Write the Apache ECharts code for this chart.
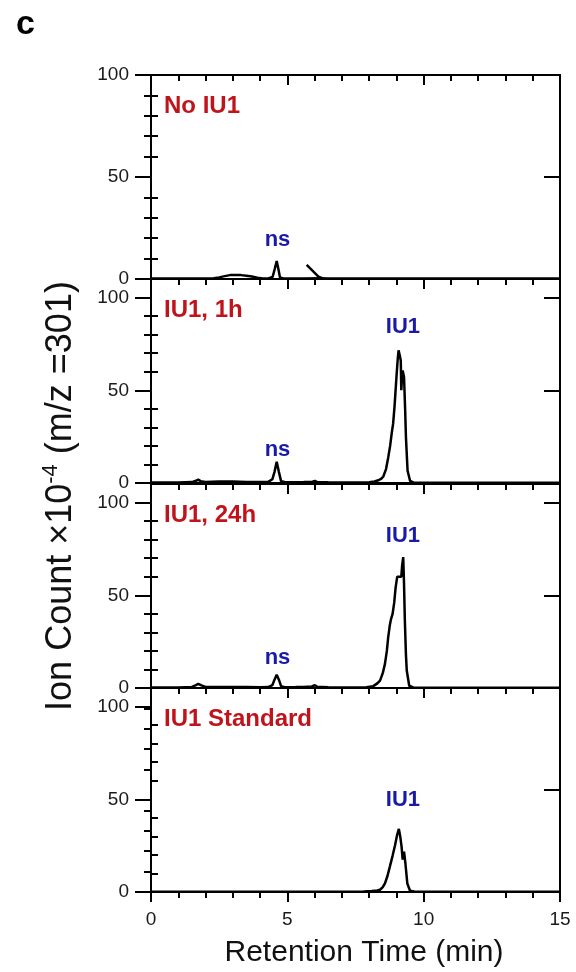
<!DOCTYPE html>
<html>
<head>
<meta charset="utf-8">
<script src="https://cdn.jsdelivr.net/npm/echarts@6/dist/echarts.min.js"></script>
<style>
  html, body { margin: 0; padding: 0; background: #fff; }
  #chart { width: 576px; height: 972px; }
</style>
</head>
<body>
<div id="chart"></div>
<script>
// Extracted ion chromatograms, m/z 301 (ion count x10^-4 vs retention time in min)

// Panel 1: no IU1
const noIU1Time  = [0, 0.5, 1.0, 1.5, 2.0, 2.3, 2.5, 2.7, 2.9, 3.1, 3.3, 3.5, 3.7, 3.9, 4.1, 4.3, 4.46, 4.54, 4.61, 4.67, 4.73, 4.85, 5.0, 5.3, 5.6, 6.2, 6.5, 7, 8, 9, 10, 11, 12, 13, 14, 15];
const noIU1Count = [0.2, 0.2, 0.2, 0.3, 0.3, 0.4, 0.8, 1.4, 1.9, 2.0, 1.9, 1.6, 1.2, 0.6, 0.3, 0.3, 1.0, 5.0, 8.8, 5.0, 0.8, 0.3, 0.3, 0.3, 0.3, 0.4, 0.3, 0.2, 0.2, 0.2, 0.2, 0.2, 0.2, 0.2, 0.2, 0.2];
// short stray stroke in the blank run near 6 min
const noIU1StrayTime  = [5.71, 6.14, 6.3];
const noIU1StrayCount = [6.9, 1.2, 0.3];

// Panel 2: IU1, 1 h
const iu1h1Time  = [0, 1.0, 1.5, 1.65, 1.73, 1.82, 2.0, 2.5, 3.0, 3.5, 4.0, 4.3, 4.45, 4.53, 4.61, 4.69, 4.77, 4.9, 5.2, 5.6, 5.9, 6.01, 6.1, 6.5, 7.0, 7.5, 8.0, 8.2, 8.34, 8.45, 8.52, 8.62, 8.70, 8.77, 8.83, 8.88, 8.93, 9.01, 9.05, 9.08, 9.12, 9.16, 9.18, 9.21, 9.23, 9.26, 9.28, 9.32, 9.35, 9.41, 9.50, 9.62, 9.8, 10, 11, 12, 13, 14, 15];
const iu1h1Count = [0.3, 0.3, 0.5, 1.2, 1.8, 1.0, 0.6, 0.8, 0.8, 0.6, 0.5, 0.6, 2.0, 6.0, 11.5, 6.0, 1.0, 0.5, 0.4, 0.5, 0.6, 1.1, 0.5, 0.4, 0.3, 0.3, 0.4, 0.8, 1.5, 2.4, 3.5, 7.5, 13.8, 20.0, 27.0, 32.0, 40.9, 58.9, 67.0, 71.5, 69.0, 66.0, 50.0, 58.0, 60.7, 58.5, 57.0, 40.0, 24.6, 6.6, 1.2, 0.3, 0.2, 0.2, 0.2, 0.2, 0.2, 0.2, 0.2];

// Panel 3: IU1, 24 h
const iu1h24Time  = [0, 1.0, 1.5, 1.65, 1.73, 1.85, 2.0, 2.5, 3.0, 3.5, 4.0, 4.3, 4.45, 4.53, 4.61, 4.69, 4.77, 4.9, 5.3, 5.6, 5.9, 6.01, 6.1, 6.5, 7.0, 7.5, 7.9, 8.15, 8.3, 8.40, 8.50, 8.58, 8.65, 8.70, 8.76, 8.80, 8.86, 8.92, 8.97, 9.01, 9.03, 9.18, 9.21, 9.25, 9.28, 9.31, 9.35, 9.38, 9.47, 9.62, 9.8, 10, 11, 12, 13, 14, 15];
const iu1h24Count = [0.3, 0.3, 0.6, 1.6, 2.2, 1.4, 0.6, 0.5, 0.6, 0.5, 0.4, 0.5, 1.5, 4.5, 7.2, 4.5, 1.0, 0.4, 0.5, 0.6, 0.8, 1.5, 0.7, 0.4, 0.3, 0.3, 0.4, 1.0, 2.5, 4.0, 8.0, 13.0, 20.0, 27.4, 34.0, 37.0, 40.0, 46.0, 54.0, 58.0, 60.0, 60.0, 66.0, 70.6, 56.0, 36.4, 18.0, 9.4, 1.2, 0.3, 0.2, 0.2, 0.2, 0.2, 0.2, 0.2, 0.2];

// Panel 4: IU1 standard
const stdTime  = [0, 2, 4, 6, 7, 7.8, 8.1, 8.3, 8.4, 8.5, 8.58, 8.67, 8.76, 8.86, 8.95, 9.03, 9.09, 9.14, 9.19, 9.23, 9.26, 9.28, 9.33, 9.40, 9.50, 9.65, 10, 11, 12, 13, 14, 15];
const stdCount = [0.2, 0.2, 0.2, 0.2, 0.2, 0.3, 0.5, 0.8, 1.2, 2.6, 4.6, 8.5, 13.7, 19.5, 25.2, 31.0, 34.0, 30.0, 24.5, 17.5, 20.0, 21.8, 15.5, 4.6, 0.7, 0.3, 0.2, 0.2, 0.2, 0.2, 0.2, 0.2];

const panelTitles = ['No IU1', 'IU1, 1h', 'IU1, 24h', 'IU1 Standard'];
// peak annotations per panel: [name, retention time, height in ion-count units]
const peakNotes = [
  [['ns', 4.64, 19.0]],
  [['ns', 4.64, 17.7], ['IU1', 9.24, 84.0]],
  [['ns', 4.64, 16.1], ['IU1', 9.24, 81.8]],
  [['IU1', 9.24, 49.4]]
];
const xTicks = [0, 5, 10, 15];
const yMajorTicks = [0, 50, 100];
const yMinorTicks = [10, 20, 30, 40, 60, 70, 80, 90];
const leftMax  = [100, 110, 110, 110];
const rightMax = [100, 110, 110, 100];

const traces = [
  [[noIU1Time, noIU1Count], [noIU1StrayTime, noIU1StrayCount]],
  [[iu1h1Time, iu1h1Count]],
  [[iu1h24Time, iu1h24Count]],
  [[stdTime, stdCount]]
];

const FONT = '"Liberation Sans", Arial, Helvetica, sans-serif';
const RED = '#c0141c';
const BLUE = '#1a1aa8';
const INK = '#000';
const panelTops = [75, 279, 484, 688];
const panelH = 204, plotLeft = 151, plotW = 409;

const grids = [], xAxes = [], yAxes = [], series = [], graphics = [];
const pairUp = (t, v) => t.map((x, k) => [x, v[k]]);
const lineStyleAxis = { color: INK, width: 2 };

panelTitles.forEach((title, i) => {
  const last = i === panelTitles.length - 1;
  grids.push({ left: plotLeft, top: panelTops[i], width: plotW, height: panelH, containLabel: false, outerBoundsMode: 'none' });

  const xBase = {
    gridIndex: i, type: 'value', min: 0, max: 15, interval: 5,
    axisLine: { show: true, onZero: false, lineStyle: lineStyleAxis },
    minorTick: { show: true, splitNumber: 5, length: 6, lineStyle: lineStyleAxis },
    splitLine: { show: false }, minorSplitLine: { show: false }
  };
  xAxes.push(Object.assign({}, xBase, {
    position: 'bottom',
    axisTick: { show: true, inside: false, length: 10, lineStyle: lineStyleAxis },
    axisLabel: { show: last, customValues: xTicks, fontSize: 19, color: '#1a1a1a', margin: 18, fontFamily: FONT }
  }));
  xAxes.push(Object.assign({}, xBase, {
    position: 'top',
    axisTick: { show: true, inside: true, length: 10, lineStyle: lineStyleAxis },
    axisLabel: { show: false }
  }));

  const yBase = { gridIndex: i, type: 'value', min: 0, splitLine: { show: false } };
  // left: labelled major ticks pointing out, minor ticks pointing in
  yAxes.push(Object.assign({}, yBase, {
    position: 'left', max: leftMax[i],
    axisLine: { show: true, onZero: false, lineStyle: lineStyleAxis },
    axisTick: { show: true, inside: false, length: 16, customValues: yMajorTicks, lineStyle: lineStyleAxis },
    axisLabel: { show: true, customValues: yMajorTicks, fontSize: 19, color: '#1a1a1a', margin: 22, fontFamily: FONT }
  }));
  yAxes.push(Object.assign({}, yBase, {
    position: 'left', max: leftMax[i],
    axisLine: { show: false },
    axisTick: { show: true, inside: true, length: 7, customValues: yMinorTicks, lineStyle: lineStyleAxis },
    axisLabel: { show: false }
  }));
  // right: frame edge with inward ticks
  yAxes.push(Object.assign({}, yBase, {
    position: 'right', max: rightMax[i],
    axisLine: { show: true, onZero: false, lineStyle: lineStyleAxis },
    axisTick: { show: true, inside: true, length: 16, customValues: yMajorTicks, lineStyle: lineStyleAxis },
    axisLabel: { show: false }
  }));
  yAxes.push(Object.assign({}, yBase, {
    position: 'right', max: rightMax[i],
    axisLine: { show: false },
    axisTick: { show: true, inside: true, length: 7, customValues: yMinorTicks, lineStyle: lineStyleAxis },
    axisLabel: { show: false }
  }));

  traces[i].forEach(([t, v], k) => {
    const s = {
      type: 'line', xAxisIndex: 2 * i, yAxisIndex: 4 * i,
      data: pairUp(t, v), showSymbol: false, symbol: 'none', smooth: false,
      lineStyle: { color: INK, width: 2.5 }, silent: true, animation: false, z: 3
    };
    if (k === 0) {
      s.markPoint = {
        symbol: 'circle', symbolSize: 1, silent: true, animation: false,
        itemStyle: { color: 'rgba(0,0,0,0)' },
        label: { show: true, position: 'inside', formatter: '{b}', color: BLUE, fontSize: 22, fontWeight: 'bold', fontFamily: FONT },
        data: peakNotes[i].map(([name, x, y]) => ({ name, coord: [x, y] }))
      };
    }
    series.push(s);
  });

  graphics.push({
    type: 'text', x: 164, y: panelTops[i] + 31,
    style: { text: title, fill: RED, font: 'bold 24px ' + FONT, align: 'left', verticalAlign: 'middle' }
  });
});

// panel letter
graphics.push({ type: 'text', x: 16, y: 25, style: { text: 'c', fill: '#000', font: 'bold 34px ' + FONT, align: 'left', verticalAlign: 'middle' } });
// x-axis title
graphics.push({ type: 'text', x: 364, y: 953, style: { text: 'Retention Time (min)', fill: '#111', font: '30px ' + FONT, align: 'center', verticalAlign: 'middle' } });
// y-axis title with superscript exponent
graphics.push({
  type: 'text', x: 61, y: 496, rotation: Math.PI / 2,
  style: {
    text: '{a|Ion Count ×10}{s|-4}{a| (m/z =301)}',
    align: 'center', verticalAlign: 'middle', fill: '#111',
    rich: {
      a: { fontSize: 36, fontFamily: FONT, lineHeight: 42, verticalAlign: 'middle', fill: '#111' },
      s: { fontSize: 22, fontFamily: FONT, lineHeight: 22, verticalAlign: 'top', fill: '#111' }
    }
  }
});

const chart = echarts.init(document.getElementById('chart'), null, { renderer: 'canvas' });
chart.setOption({
  animation: false,
  backgroundColor: '#fff',
  grid: grids,
  xAxis: xAxes,
  yAxis: yAxes,
  series: series,
  graphic: graphics
});
</script>
</body>
</html>
